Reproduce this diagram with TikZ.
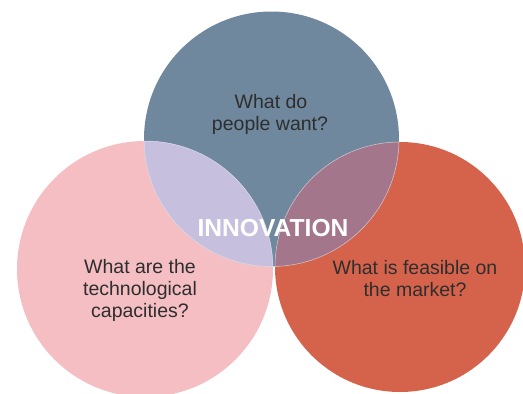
\documentclass[tikz,border=0pt]{standalone}
\usepackage{fontspec}
\setmainfont{Liberation Sans}
\definecolor{topc}{HTML}{6F889E}
\definecolor{leftc}{HTML}{F4BEC3}
\definecolor{rightc}{HTML}{D5634C}
\definecolor{lav}{HTML}{C6BFDD}
\definecolor{mauve}{HTML}{A3768C}
\definecolor{txt}{HTML}{2E2E2E}
\begin{document}
\begin{tikzpicture}[x=1pt,y=-1pt,
  qtext/.style={anchor=base, inner sep=0pt, text=txt, font=\fontsize{19.5}{22}\selectfont},
  bigtext/.style={anchor=base, inner sep=0pt, text=white, font=\fontsize{24.6}{28}\selectfont\bfseries},
  seam/.style={draw=white, line width=0.5pt, opacity=0.6}]
\useasboundingbox (0,0) rectangle (523,394);
\clip (0,0) rectangle (523,394);
\coordinate (T) at (271.5,139);
\coordinate (L) at (145,269);
\coordinate (R) at (400,267);
\fill[rightc] (R) circle[radius=125];
\fill[leftc] (L) circle[radius=128];
\fill[topc] (T) circle[radius=127.5];
\begin{scope}
  \clip (T) circle[radius=127.5];
  \fill[lav] (L) circle[radius=128];
  \fill[mauve] (R) circle[radius=125];
  \draw[seam] (L) circle[radius=128];
  \draw[seam] (R) circle[radius=125];
\end{scope}
\begin{scope}
  \clip (L) circle[radius=128];
  \draw[seam] (T) circle[radius=127.5];
\end{scope}
\begin{scope}
  \clip (R) circle[radius=125];
  \draw[seam] (T) circle[radius=127.5];
\end{scope}
\node[qtext] (q1a) at (271,108) {What do};
\node[qtext] (q1b) at (270,130) {people want?};
\node[qtext] (q2a) at (140,273) {What are the};
\node[qtext] (q2b) at (140,295) {technological};
\node[qtext] (q2c) at (140,317) {capacities?};
\node[qtext] (q3a) at (415,274) {What is feasible on};
\node[qtext] (q3b) at (415,296) {the market?};
\node[bigtext] (inn) at (273,236) {INNOVATION};
\end{tikzpicture}
\end{document}
